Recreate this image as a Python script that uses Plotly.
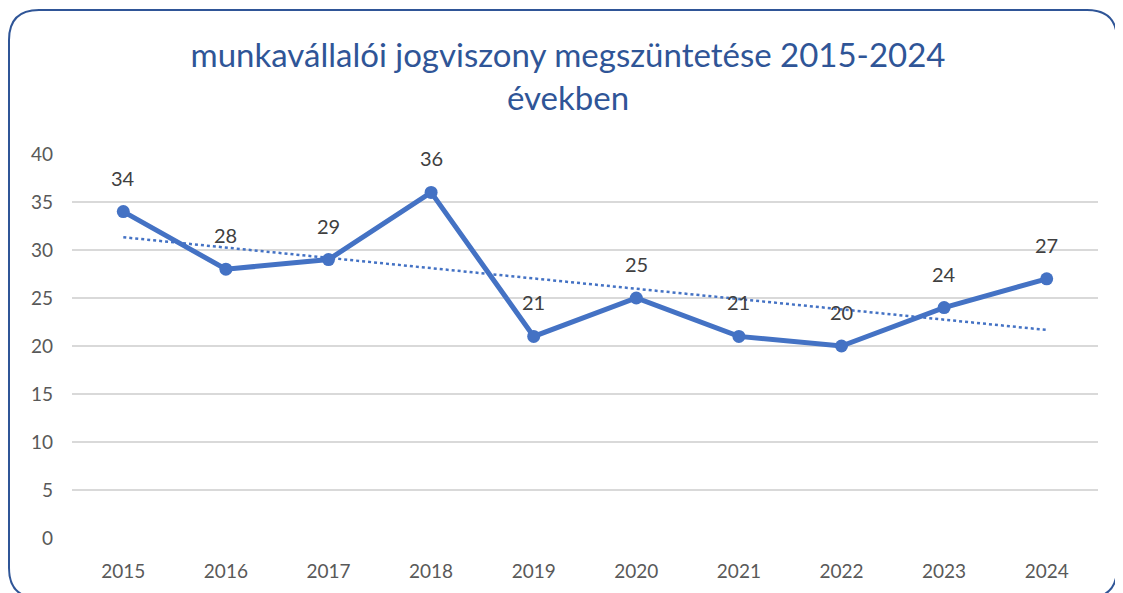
import numpy as np
import plotly.graph_objects as go

years = ["2015", "2016", "2017", "2018", "2019", "2020", "2021", "2022", "2023", "2024"]
values = [34, 28, 29, 36, 21, 25, 21, 20, 24, 27]
y_ticks = [0, 5, 10, 15, 20, 25, 30, 35, 40]

# page body has an 8px margin: figure occupies screen pixels 8..1123
OFF = 8
W, H = 1123 - OFF, 593 - OFF
L, R, T, B = 72 - OFF, 25, 154 - OFF, 55
PW, PH = W - L - R, H - T - B

def px(x):  # screen x -> paper
    return (x - OFF - L) / PW

def py(y):  # screen y -> paper
    return (H - B - (y - OFF)) / PH

idx = np.arange(1, len(values) + 1)
slope, intercept = np.polyfit(idx, values, 1)
trend = slope * idx + intercept

BLUE = "#4472C4"
FONT = "Lato, Open Sans, sans-serif"

fig = go.Figure()
fig.add_trace(go.Scatter(x=years, y=trend, mode="lines",
                         line=dict(color=BLUE, width=2.5, dash="dot"),
                         hoverinfo="skip", showlegend=False))
fig.add_trace(go.Scatter(x=years, y=values, mode="lines+markers",
                         line=dict(color=BLUE, width=5),
                         marker=dict(color=BLUE, size=13),
                         showlegend=False))

for i, v in enumerate(values):
    fig.add_annotation(x=i, y=v, xref="x", yref="y", text=str(v), showarrow=False,
                       yshift=34, font=dict(family=FONT, size=20, color="#404040"))

# rounded chart border
x0, x1 = px(9), px(1117)
y0, y1 = py(10), py(598)
rx, ry = 30 / PW, 30 / PH
path = (f"M {x0+rx},{y0} L {x1-rx},{y0} Q {x1},{y0} {x1},{y0-ry} "
        f"L {x1},{y1+ry} Q {x1},{y1} {x1-rx},{y1} L {x0+rx},{y1} "
        f"Q {x0},{y1} {x0},{y1+ry} L {x0},{y0-ry} Q {x0},{y0} {x0+rx},{y0} Z")
fig.add_shape(type="path", path=path, xref="paper", yref="paper",
              line=dict(color="#2F5597", width=2), fillcolor="rgba(0,0,0,0)")

fig.update_layout(
    width=W, height=H,
    margin=dict(l=L, r=R, t=T, b=B),
    paper_bgcolor="white", plot_bgcolor="white",
    title=dict(text="munkavállalói jogviszony megszüntetése 2015-2024<br>években",
               xref="container", yref="container",
               x=(568 - OFF) / W, xanchor="center",
               y=1 - (67 - OFF) / H, yanchor="middle",
               font=dict(family=FONT, size=33, color="#2F5597")),
    xaxis=dict(type="category", range=[-0.5, 9.5], showgrid=False, zeroline=False,
               showline=False, ticks="", ticklabelstandoff=20,
               tickfont=dict(family=FONT, size=19, color="#595959")),
    yaxis=dict(range=[0, 40], tickvals=y_ticks, showgrid=True, gridcolor="#D9D9D9",
               gridwidth=1.5, zeroline=False, showline=False, ticks="",
               ticklabelstandoff=18,
               tickfont=dict(family=FONT, size=19, color="#595959")),
)

fig.write_html("out.html")
